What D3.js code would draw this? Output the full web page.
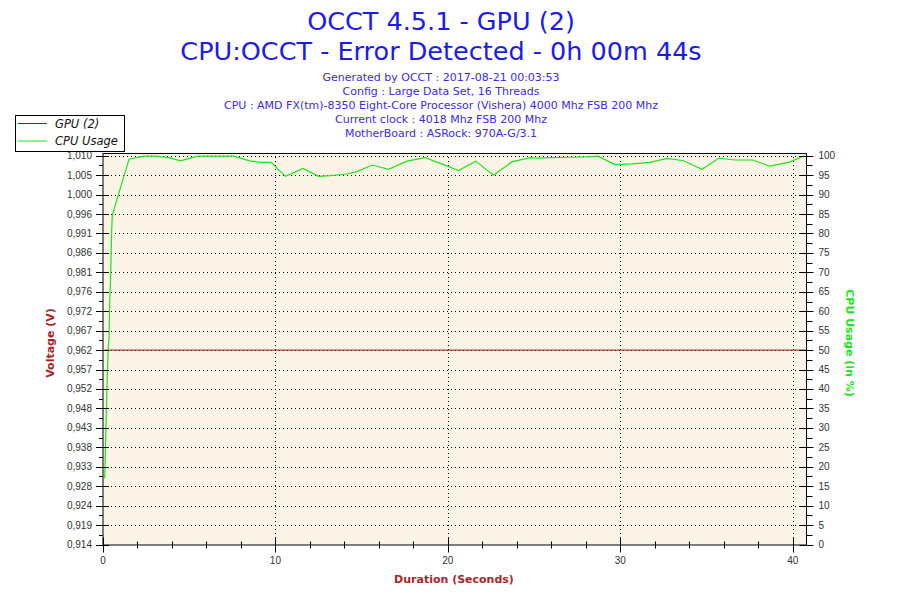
<html>
<head>
    <script src="https://d3js.org/d3.v7.min.js"></script>
    <style>
        body { margin: 0; background: #fff; }
        text { font-family: "DejaVu Sans", Verdana, sans-serif; }
        .tick-label { font-family: "Liberation Sans", Arial, sans-serif; font-size: 10px; fill: #333; }
        .grid { stroke: #000; stroke-dasharray: 1,3; stroke-width: 1; }
    </style>
</head>

<body>
    <svg width="900" height="600"></svg>

    <script>
        // CPU usage (%) readings, time in seconds
        const cpuTime = [0.10, 0.16, 0.25, 0.31, 0.35, 0.39, 0.45, 0.50, 0.54, 1.51,
                         2.37, 3.05, 3.82, 4.50, 5.47, 6.50, 7.57, 8.55, 9.23, 9.75,
                         10.58, 11.60, 12.51, 13.18, 14.15, 14.73, 15.62, 16.56, 17.63, 18.69,
                         19.75, 20.61, 21.62, 22.64, 23.71, 24.77, 25.25, 26.10, 27.08, 28.05,
                         28.70, 29.69, 30.65, 31.71, 32.72, 33.68, 34.74, 35.73, 36.64, 37.70,
                         38.66, 39.76, 40.69];
        const cpuUsage = [17, 28, 43.6, 51.3, 53, 62.4, 70.2, 80.4, 84.7, 99.1,
                          99.9, 99.9, 99.5, 98.7, 99.9, 99.9, 99.9, 98.6, 98.3, 98.3,
                          94.7, 96.7, 94.7, 94.9, 95.3, 95.9, 97.6, 96.5, 98.6, 99.5,
                          97.7, 96.2, 98.6, 95.0, 98.4, 99.5, 99.4, 99.5, 99.6, 99.7,
                          99.9, 97.7, 97.9, 98.3, 99.3, 98.7, 96.5, 99.4, 98.9, 98.9,
                          97.3, 98.3, 100];

        // GPU (2) voltage readings
        const voltTime = [0.10, 40.79];
        const voltValue = [0.962, 0.962];

        const voltTicks = d3.range(21).map(i => 0.914 + i * 0.0048);
        const voltTickLabels = ["0,914", "0,919", "0,924", "0,928", "0,933", "0,938", "0,943",
                                "0,948", "0,952", "0,957", "0,962", "0,967", "0,972", "0,976",
                                "0,981", "0,986", "0,991", "0,996", "1,000", "1,005", "1,010"];
        const cpuTicks = d3.range(0, 101, 5);
        const timeTicks = [0, 10, 20, 30, 40];
        const timeMinorTicks = d3.range(0, 41, 2);

        const titleLines = ["OCCT 4.5.1 - GPU (2)", "CPU:OCCT - Error Detected - 0h 00m 44s"];
        const infoLines = ["Generated by OCCT : 2017-08-21 00:03:53",
                           "Config : Large Data Set, 16 Threads",
                           "CPU : AMD FX(tm)-8350 Eight-Core Processor (Vishera) 4000 Mhz FSB 200 Mhz",
                           "Current clock : 4018 Mhz FSB 200 Mhz",
                           "MotherBoard : ASRock: 970A-G/3.1"];

        const width = 900, height = 600;
        const titleX = 441;
        const plot = { left: 103, right: 806.5, top: 153, bottom: 544.5, y100: 155.7 };
        const darkRed = "#a8262b", green = "#18e818", blue = "#1a1af0";

        const svg = d3.select("svg");

        const x = d3.scaleLinear().domain([0, 40.8]).range([plot.left, plot.right]);
        const yCpu = d3.scaleLinear().domain([0, 100]).range([plot.bottom, plot.y100]);
        const yVolt = d3.scaleLinear().domain([0.914, 1.010]).range([plot.bottom, plot.y100]);

        // titles
        svg.selectAll(".title")
           .data(titleLines)
           .enter().append("text")
           .attr("x", titleX)
           .attr("y", (d, i) => 30 + i * 30)
           .attr("text-anchor", "middle")
           .attr("font-size", 25.5)
           .attr("fill", blue)
           .text(d => d);

        svg.selectAll(".info")
           .data(infoLines)
           .enter().append("text")
           .attr("x", titleX)
           .attr("y", (d, i) => 81 + i * 14)
           .attr("text-anchor", "middle")
           .attr("font-size", 11)
           .attr("fill", "#3a2af0")
           .text(d => d);

        // plot background
        svg.append("rect")
           .attr("x", plot.left).attr("y", plot.top)
           .attr("width", plot.right - plot.left)
           .attr("height", plot.bottom - plot.top)
           .attr("fill", "#fcf5e7");

        // dotted grid
        svg.selectAll(".hgrid")
           .data(cpuTicks.filter(d => d > 0))
           .enter().append("line")
           .attr("class", "grid")
           .attr("x1", plot.left).attr("x2", plot.right)
           .attr("y1", d => Math.round(yCpu(d)) + 0.5)
           .attr("y2", d => Math.round(yCpu(d)) + 0.5);

        svg.selectAll(".vgrid")
           .data(timeTicks.filter(d => d > 0))
           .enter().append("line")
           .attr("class", "grid")
           .attr("x1", d => Math.round(x(d)) + 0.5)
           .attr("x2", d => Math.round(x(d)) + 0.5)
           .attr("y1", plot.top).attr("y2", plot.bottom);

        // series
        const voltLine = d3.line()
            .x((d, i) => x(voltTime[i]))
            .y(d => yVolt(d));
        svg.append("path")
           .attr("d", voltLine(voltValue))
           .attr("fill", "none")
           .attr("stroke", "#8e1a1a")
           .attr("stroke-width", 1);

        const cpuLine = d3.line()
            .x((d, i) => x(cpuTime[i]))
            .y(d => yCpu(d));
        svg.append("path")
           .attr("d", cpuLine(cpuUsage))
           .attr("fill", "none")
           .attr("stroke", green)
           .attr("stroke-width", 1.2);

        // frame
        svg.append("line")
           .attr("x1", plot.left).attr("x2", plot.right)
           .attr("y1", plot.top + 0.5).attr("y2", plot.top + 0.5)
           .attr("stroke", "#000");

        // left axis
        const leftAxis = svg.append("g").attr("transform", `translate(${plot.left},0)`);
        leftAxis.append("line")
           .attr("y1", plot.top).attr("y2", plot.bottom + 1)
           .attr("stroke", "#000");
        leftAxis.selectAll(".minor")
           .data(voltTicks.slice(1).map(d => d - 0.0024))
           .enter().append("line")
           .attr("x1", -4).attr("x2", 0)
           .attr("y1", d => Math.round(yVolt(d)) + 0.5)
           .attr("y2", d => Math.round(yVolt(d)) + 0.5)
           .attr("stroke", "#000");
        leftAxis.selectAll(".major")
           .data(voltTicks)
           .enter().append("line")
           .attr("x1", -7).attr("x2", 6)
           .attr("y1", d => Math.round(yVolt(d)) + 0.5)
           .attr("y2", d => Math.round(yVolt(d)) + 0.5)
           .attr("stroke", "#000");
        leftAxis.selectAll(".tick-label")
           .data(voltTicks)
           .enter().append("text")
           .attr("class", "tick-label")
           .attr("x", -11)
           .attr("y", d => yVolt(d) + 3.5)
           .attr("text-anchor", "end")
           .text((d, i) => voltTickLabels[i]);

        // right axis
        const rightAxis = svg.append("g").attr("transform", `translate(${plot.right},0)`);
        rightAxis.append("line")
           .attr("y1", plot.top).attr("y2", plot.bottom + 1)
           .attr("stroke", "#000");
        rightAxis.selectAll(".minor")
           .data(cpuTicks.slice(1).map(d => d - 2.5))
           .enter().append("line")
           .attr("x1", 0).attr("x2", 6)
           .attr("y1", d => Math.round(yCpu(d)) + 0.5)
           .attr("y2", d => Math.round(yCpu(d)) + 0.5)
           .attr("stroke", "#000");
        rightAxis.selectAll(".major")
           .data(cpuTicks)
           .enter().append("line")
           .attr("x1", -7).attr("x2", 7)
           .attr("y1", d => Math.round(yCpu(d)) + 0.5)
           .attr("y2", d => Math.round(yCpu(d)) + 0.5)
           .attr("stroke", "#000");
        rightAxis.selectAll(".tick-label")
           .data(cpuTicks)
           .enter().append("text")
           .attr("class", "tick-label")
           .attr("x", 12)
           .attr("y", d => yCpu(d) + 3.5)
           .text(d => d);

        // bottom axis
        const bottomAxis = svg.append("g").attr("transform", `translate(0,${plot.bottom})`);
        bottomAxis.append("line")
           .attr("x1", plot.left).attr("x2", plot.right + 0.5)
           .attr("y1", 0.5).attr("y2", 0.5)
           .attr("stroke", "#000");
        bottomAxis.selectAll(".minor")
           .data(timeMinorTicks)
           .enter().append("line")
           .attr("x1", d => Math.round(x(d)) + 0.5)
           .attr("x2", d => Math.round(x(d)) + 0.5)
           .attr("y1", -3).attr("y2", 4)
           .attr("stroke", "#000");
        bottomAxis.selectAll(".major")
           .data(timeTicks)
           .enter().append("line")
           .attr("x1", d => Math.round(x(d)) + 0.5)
           .attr("x2", d => Math.round(x(d)) + 0.5)
           .attr("y1", -7).attr("y2", 8)
           .attr("stroke", "#000");
        bottomAxis.selectAll(".tick-label")
           .data(timeTicks)
           .enter().append("text")
           .attr("class", "tick-label")
           .attr("x", d => x(d))
           .attr("y", 19)
           .attr("text-anchor", "middle")
           .text(d => d);

        // axis titles
        svg.append("text")
           .attr("x", 454)
           .attr("y", 583)
           .attr("text-anchor", "middle")
           .attr("font-family", "Liberation Sans, Arial, sans-serif")
           .attr("font-weight", "bold")
           .attr("font-size", 11)
           .attr("fill", darkRed)
           .text("Duration (Seconds)");

        svg.append("text")
           .attr("transform", "translate(54,343) rotate(-90)")
           .attr("text-anchor", "middle")
           .attr("font-family", "Liberation Sans, Arial, sans-serif")
           .attr("font-weight", "bold")
           .attr("font-size", 11)
           .attr("fill", darkRed)
           .text("Voltage (V)");

        svg.append("text")
           .attr("transform", "translate(846,343) rotate(90)")
           .attr("text-anchor", "middle")
           .attr("font-family", "Liberation Sans, Arial, sans-serif")
           .attr("font-weight", "bold")
           .attr("font-size", 11)
           .attr("fill", green)
           .text("CPU Usage (in %)");

        // legend
        const legend = svg.append("g");
        legend.append("rect")
           .attr("x", 15.5).attr("y", 115.5)
           .attr("width", 109).attr("height", 36)
           .attr("fill", "#fff")
           .attr("stroke", "#000");
        const legendItems = [{ name: "GPU (2)", color: "#8e1a1a" }, { name: "CPU Usage", color: green }];
        legendItems.forEach((d, i) => {
            legend.append("line")
               .attr("x1", 18).attr("x2", 47)
               .attr("y1", 123.5 + i * 17.5).attr("y2", 123.5 + i * 17.5)
               .attr("stroke", d.color);
            legend.append("text")
               .attr("x", 55)
               .attr("y", 127.5 + i * 17.5)
               .attr("font-size", 11.5)
               .attr("font-style", "italic")
               .attr("fill", "#111")
               .text(d.name);
        });
    </script>

</body>
</html>
